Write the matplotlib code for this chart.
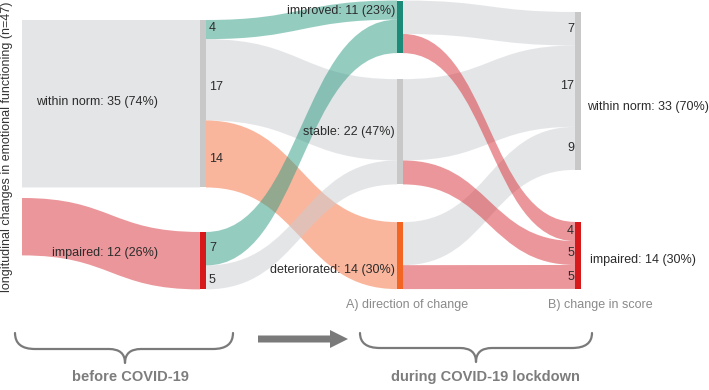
import matplotlib
matplotlib.use('Agg')
import matplotlib.pyplot as plt
from matplotlib.path import Path
from matplotlib.patches import PathPatch, Rectangle, FancyArrow
import numpy as np

plt.rcParams['font.family'] = ['Liberation Sans', 'DejaVu Sans']

# ---------------- data ----------------
before_labels = ['within norm', 'impaired']
before_counts = [35, 12]
direction_labels = ['improved', 'stable', 'deteriorated']
score_labels = ['within norm', 'impaired']
# rows: before status, cols: direction of change
flow_before_direction = [[4, 17, 14],
                         [7, 5, 0]]
# rows: direction of change, cols: score status during lockdown
flow_direction_score = [[7, 4],
                        [17, 5],
                        [9, 5]]
n_total = 47
ylabel_text = 'longitudinal changes in emotional functioning (n=47)'
stage_labels = ['A) direction of change', 'B) change in score']
period_labels = ['before COVID-19', 'during COVID-19 lockdown']

# ---------------- layout / style ----------------
W, H = 709, 390
S = 4.785  # pixels per participant
BW = 6     # node bar width
X0 = 22
X1, X2, X3 = 200, 397, 575
col_tops = {0: 20, 1: 20, 2: 0.5, 3: 12}
col_gaps = {0: [10.5], 1: [44.5], 2: [26, 37.7], 3: [52]}

c_gray_flow = '#cbcdd1'
c_teal_flow = '#2d9b83'
c_orange_flow = '#f56f3d'
c_red_flow = '#d72f37'
FA = 0.5
c_gray_bar = '#c8c8c8'
c_teal_bar = '#1b8a78'
c_orange_bar = '#f26522'
c_red_bar = '#d7191c'
txt_c = '#2b2b2b'

fb = np.array(flow_before_direction)
fd = np.array(flow_direction_score)
dir_counts = fb.sum(axis=0)
score_counts = fd.sum(axis=0)


def stack(counts, top, gaps):
    pos = []
    y = top
    for k, c in enumerate(counts):
        pos.append((y, y + c * S))
        y = y + c * S + (gaps[k] if k < len(gaps) else 0)
    return pos


nodes0 = stack(before_counts, col_tops[0], col_gaps[0])
nodes1 = stack(before_counts, col_tops[1], col_gaps[1])
nodes2 = stack(dir_counts, col_tops[2], col_gaps[2])
nodes3 = stack(score_counts, col_tops[3], col_gaps[3])

fig = plt.figure(figsize=(7.09, 3.9), dpi=100)
ax = fig.add_axes([0, 0, 1, 1])
ax.set_xlim(0, W)
ax.set_ylim(H, 0)
ax.axis('off')


def band(xa, ya0, ya1, xb, yb0, yb1, color, alpha=FA, z=1):
    xm = (xa + xb) / 2
    verts = [(xa, ya0), (xm, ya0), (xm, yb0), (xb, yb0),
             (xb, yb1), (xm, yb1), (xm, ya1), (xa, ya1), (xa, ya0)]
    codes = [Path.MOVETO, Path.CURVE4, Path.CURVE4, Path.CURVE4,
             Path.LINETO, Path.CURVE4, Path.CURVE4, Path.CURVE4, Path.CLOSEPOLY]
    ax.add_patch(PathPatch(Path(verts, codes), facecolor=color, edgecolor='none',
                           alpha=alpha, zorder=z))


# left blocks (before COVID-19)
left_cols = [c_gray_flow, c_red_flow]
for i in range(len(before_counts)):
    band(X0, nodes0[i][0], nodes0[i][1], X1, nodes1[i][0], nodes1[i][1], left_cols[i])

# flows before -> direction
dir_flow_cols = [c_teal_flow, c_gray_flow, c_orange_flow]
out1 = [n[0] for n in nodes1]
in2 = [n[0] for n in nodes2]
seg1 = []
for i in range(fb.shape[0]):
    for j in range(fb.shape[1]):
        v = fb[i, j]
        if v == 0:
            continue
        a0, a1 = out1[i], out1[i] + v * S
        b0, b1 = in2[j], in2[j] + v * S
        band(X1 + BW, a0, a1, X2, b0, b1, dir_flow_cols[j], z=2)
        seg1.append((v, (a0 + a1) / 2))
        out1[i] = a1
        in2[j] = b1

# flows direction -> score
score_flow_cols = [c_gray_flow, c_red_flow]
out2 = [n[0] for n in nodes2]
in3 = [n[0] for n in nodes3]
flows2 = []
for i in range(fd.shape[0]):
    for j in range(fd.shape[1]):
        v = fd[i, j]
        a0, a1 = out2[i], out2[i] + v * S
        b0, b1 = in3[j], in3[j] + v * S
        flows2.append((j, v, a0, a1, b0, b1))
        out2[i] = a1
        in3[j] = b1
for jj in range(len(score_counts)):
    for (j, v, a0, a1, b0, b1) in flows2:
        if j == jj:
            band(X2 + BW, a0, a1, X3, b0, b1, score_flow_cols[j], z=3)

# node bars
bar1_cols = [c_gray_bar, c_red_bar]
bar2_cols = [c_teal_bar, c_gray_bar, c_orange_bar]
bar3_cols = [c_gray_bar, c_red_bar]
for nodes, x, cols in [(nodes1, X1, bar1_cols), (nodes2, X2, bar2_cols), (nodes3, X3, bar3_cols)]:
    for (y0, y1), c in zip(nodes, cols):
        ax.add_patch(Rectangle((x, y0), BW, y1 - y0, facecolor=c, edgecolor='none', zorder=5))

FS = 9
# numbers at column 1 (small manual nudges for legibility)
seg1_dy = [-2, 7, 5, -1, 3]
for (v, yc), dy in zip(seg1, seg1_dy):
    ax.text(X1 + BW + 3, yc + dy, str(v), ha='left', va='center', fontsize=FS, color=txt_c, zorder=6)

# numbers at column 3
for (j, v, a0, a1, b0, b1) in flows2:
    ax.text(X3 - 1, (b0 + b1) / 2, str(v), ha='right', va='center', fontsize=FS, color=txt_c, zorder=6)


def pct(c):
    return int(round(100 * c / n_total))


# before labels
before_lab_x = [97, 105]
before_lab_dy = [-1.5, -8]
for k, lab in enumerate(before_labels):
    y0, y1 = nodes1[k]
    ax.text(before_lab_x[k], (y0 + y1) / 2 + before_lab_dy[k],
            f'{lab}: {before_counts[k]} ({pct(before_counts[k])}%)',
            ha='center', va='center', fontsize=FS, color=txt_c, zorder=6)

# direction labels
dir_frac = [0.2, 0.5, 0.72]
for k, lab in enumerate(direction_labels):
    y0, y1 = nodes2[k]
    ax.text(X2 - 2, y0 + dir_frac[k] * (y1 - y0),
            f'{lab}: {dir_counts[k]} ({pct(dir_counts[k])}%)',
            ha='right', va='center', fontsize=FS, color=txt_c, zorder=6)

# score labels
score_lab_dx = [12, 15]
score_lab_dy = [16, 4.5]
for k, lab in enumerate(score_labels):
    y0, y1 = nodes3[k]
    ax.text(X3 + score_lab_dx[k], (y0 + y1) / 2 + score_lab_dy[k],
            f'{lab}: {score_counts[k]} ({pct(score_counts[k])}%)',
            ha='left', va='center', fontsize=FS, color=txt_c, zorder=6)

# y label
ax.text(7, 147, ylabel_text, rotation=90, ha='center', va='center', fontsize=FS, color='#333333')

# stage labels
ax.text(407, 305, stage_labels[0], ha='center', va='center', fontsize=FS, color='#8a8a8a')
ax.text(600, 305, stage_labels[1], ha='center', va='center', fontsize=FS, color='#8a8a8a')


def brace(x0, x1, xc, ytop, ymid, ytip, re=20, rt=16):
    verts = [(x0, ytop), (x0, ymid), (x0 + re, ymid),
             (xc - rt, ymid), (xc, ymid), (xc, ytip),
             (xc, ymid), (xc + rt, ymid),
             (x1 - re, ymid), (x1, ymid), (x1, ytop)]
    codes = [Path.MOVETO, Path.CURVE3, Path.CURVE3,
             Path.LINETO, Path.CURVE3, Path.CURVE3,
             Path.CURVE3, Path.CURVE3,
             Path.LINETO, Path.CURVE3, Path.CURVE3]
    ax.add_patch(PathPatch(Path(verts, codes), facecolor='none', edgecolor='#7a7a7a',
                           lw=1.6, capstyle='round', joinstyle='round'))


brace(15, 233, 125, 333, 349, 363)
brace(360, 592, 476, 333, 348, 362)

ax.add_patch(FancyArrow(258, 339, 90, 0, width=7, head_width=18, head_length=18,
                        length_includes_head=True, color='#7a7a7a', lw=0))

ax.text(130, 377, period_labels[0], ha='center', va='center', fontsize=10.5,
        fontweight='bold', color='#7d7d7d')
ax.text(485, 377, period_labels[1], ha='center', va='center', fontsize=10.5,
        fontweight='bold', color='#7d7d7d')

fig.savefig('out.png', dpi=100)
